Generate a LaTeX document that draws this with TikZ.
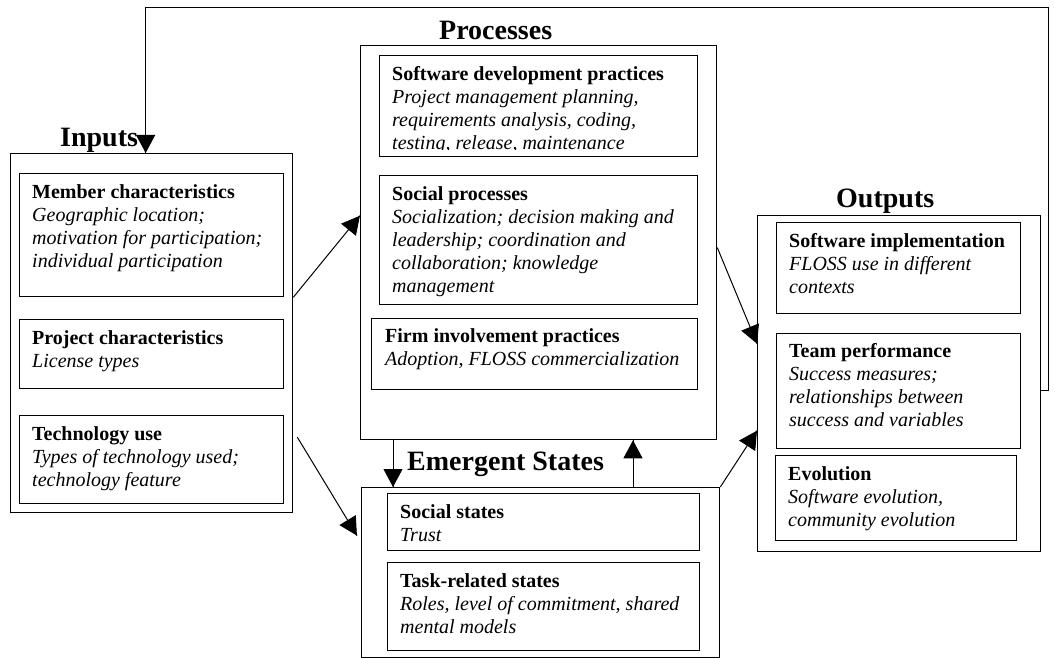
\documentclass[tikz,border=0pt]{standalone}
\usepackage{fontspec}
\setmainfont{Liberation Serif}
\usepackage{tikz}
\usetikzlibrary{arrows.meta}
\usetikzlibrary{decorations.markings}
\usetikzlibrary{positioning}
\tikzset{flow/.style = {line width=1pt,
                        decoration={markings,
                                    mark=at position 1 with {\arrow{Triangle[length=18pt,width=19pt]}}},
                        postaction={decorate}}}
\tikzset{group/.style = {draw, line width=1.3pt, inner sep=0pt, anchor=north west},
         ibox/.style = {draw, line width=1.3pt, inner sep=0pt, anchor=north west},
         itext/.style = {align=left, inner sep=0pt, anchor=north west,
                         font=\fontsize{20}{23}\selectfont},
         heading/.style = {inner sep=0pt, anchor=base west,
                           font=\fontsize{28}{30}\selectfont\bfseries}}

\begin{document}
\begin{tikzpicture}[x=1pt, y=-1pt]
      \useasboundingbox (0,0) rectangle (1055,658);
      % the four groups
      \node [group, minimum width=282pt, minimum height=359pt] (inputs) at (10,153) {};
      \node [group, minimum width=356pt, minimum height=394pt] (procs) at (360,45) {};
      \node [group, minimum width=358pt, minimum height=170pt] (emerg) at (361,487) {};
      \node [group, minimum width=283pt, minimum height=336pt] (outputs) at (757,215) {};
      \node [heading] (inputs-h) at (60,147) {Inputs};
      \node [heading] (procs-h) at (439,40) {Processes};
      \node [heading] (emerg-h) at (407,470) {Emergent States};
      \node [heading] (outputs-h) at (836,207) {Outputs};

      % inputs
      \node [ibox, minimum width=264pt, minimum height=123pt] (member) at (19,173) {};
      \node [itext] (member-t) at ([shift={(13pt,-9pt)}]member.north west)
            {\strut\textbf{Member characteristics}\\\textit{Geographic location;}\\
             \textit{motivation for participation;}\\\textit{individual participation}};
      \node [ibox, minimum width=264pt, minimum height=69pt] (project) at (19,319) {};
      \node [itext] (project-t) at ([shift={(13pt,-9pt)}]project.north west)
            {\strut\textbf{Project characteristics}\\\textit{License types}};
      \node [ibox, minimum width=264pt, minimum height=88pt] (techuse) at (19,415) {};
      \node [itext] (techuse-t) at ([shift={(13pt,-9pt)}]techuse.north west)
            {\strut\textbf{Technology use}\\\textit{Types of technology used;}\\\textit{technology feature}};

      % processes
      \node [ibox, minimum width=318pt, minimum height=101pt] (softdev) at (379,55) {};
      \begin{scope}
        \clip (softdev.north west) rectangle ([yshift=8pt]softdev.south east);
        \node [itext] (softdev-t) at ([shift={(13pt,-9pt)}]softdev.north west)
              {\strut\textbf{Software development practices}\\\textit{Project management planning,}\\
               \textit{requirements analysis, coding,}\\\textit{testing, release, maintenance}};
      \end{scope}
      \node [ibox, minimum width=318pt, minimum height=129pt] (socproc) at (379,175) {};
      \node [itext] (socproc-t) at ([shift={(13pt,-9pt)}]socproc.north west)
            {\strut\textbf{Social processes}\\\textit{Socialization; decision making and}\\
             \textit{leadership; coordination and}\\\textit{collaboration; knowledge}\\
             \textit{management}};
      \node [ibox, minimum width=326pt, minimum height=71pt] (firm) at (371,318) {};
      \node [itext] (firm-t) at ([shift={(14pt,-8pt)}]firm.north west)
            {\strut\textbf{Firm involvement practices}\\\textit{Adoption, FLOSS commercialization}};

      % emergent states
      \node [ibox, minimum width=312pt, minimum height=57pt] (socstate) at (387,493) {};
      \node [itext] (socstate-t) at ([shift={(13pt,-9pt)}]socstate.north west)
            {\strut\textbf{Social states}\\\textit{Trust}};
      \node [ibox, minimum width=312pt, minimum height=88pt] (taskstate) at (387,562) {};
      \node [itext] (taskstate-t) at ([shift={(13pt,-9pt)}]taskstate.north west)
            {\strut\textbf{Task-related states}\\\textit{Roles, level of commitment, shared}\\
             \textit{mental models}};

      % outputs
      \node [ibox, minimum width=244pt, minimum height=91pt] (softimpl) at (776,222) {};
      \node [itext] (softimpl-t) at ([shift={(13pt,-9pt)}]softimpl.north west)
            {\strut\textbf{Software implementation}\\\textit{FLOSS use in different}\\\textit{contexts}};
      \node [ibox, minimum width=244pt, minimum height=115pt] (teamperf) at (776,333) {};
      \node [itext] (teamperf-t) at ([shift={(13pt,-8pt)}]teamperf.north west)
            {\strut\textbf{Team performance}\\\textit{Success measures;}\\
             \textit{relationships between}\\\textit{success and variables}};
      \node [ibox, minimum width=241pt, minimum height=85pt] (evol) at (775,455) {};
      \node [itext] (evol-t) at ([shift={(13pt,-9pt)}]evol.north west)
            {\strut\textbf{Evolution}\\\textit{Software evolution,}\\\textit{community evolution}};

      % connectors
      \coordinate (loop) at (1048,8);
      \draw [flow] (inputs.east |- member.south) -- ([yshift=27pt]procs.west);
      \draw [flow] ([shift={(4pt,-104pt)}]inputs.east) -- ([shift={(-4pt,37pt)}]emerg.west);
      \draw [flow] ([yshift=-5pt]procs.east) -- ([yshift=40pt]outputs.west);
      \draw [flow] (emerg.north east) -- ([yshift=-47pt]outputs.west);
      \draw [flow] ([xshift=33pt]procs.south west) -- ([xshift=33pt]procs.south west |- emerg.north);
      \draw [flow] ([xshift=272pt]emerg.north west) -- ([xshift=272pt]emerg.north west |- procs.south);
      \draw [flow] ([yshift=-7pt]outputs.east) -| (loop) -| ([xshift=-6pt]inputs.north);
\end{tikzpicture}
\end{document}
